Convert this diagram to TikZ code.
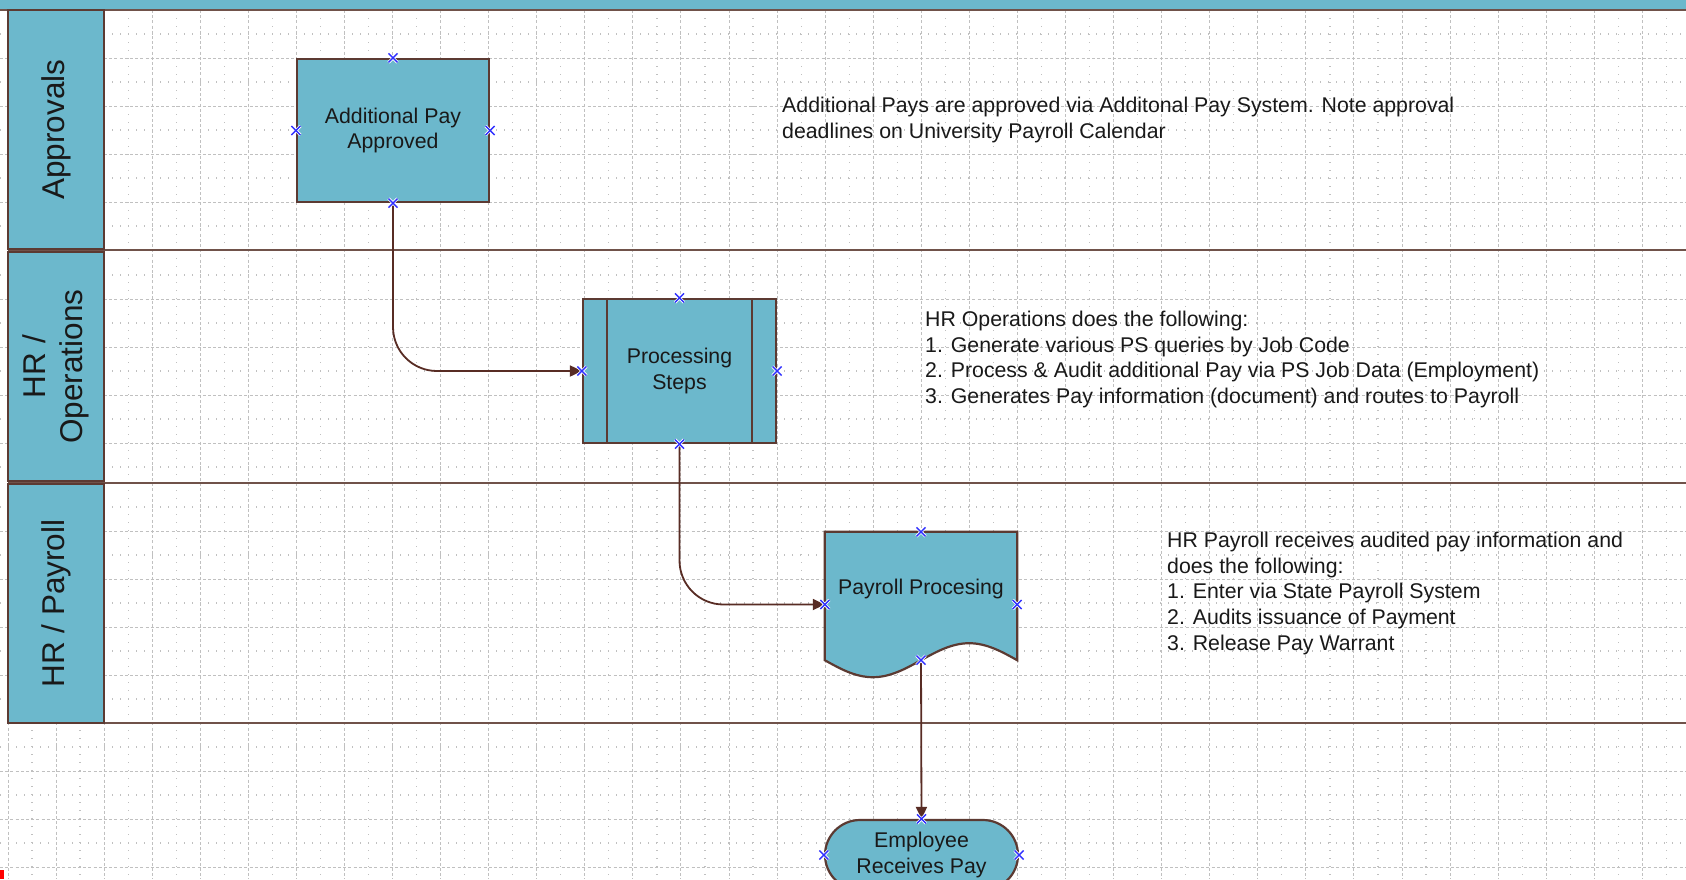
\documentclass[tikz,border=0pt]{standalone}
\usepackage{fontspec}
\setmainfont{Liberation Sans}
\usetikzlibrary{arrows.meta}
\definecolor{laneteal}{RGB}{108,184,204}
\definecolor{boxbrown}{RGB}{92,58,50}
\definecolor{lanebrown}{RGB}{112,82,74}
\definecolor{connbrown}{RGB}{88,44,36}
\definecolor{gridc}{RGB}{192,192,192}
\definecolor{cpblue}{RGB}{48,48,255}
\definecolor{textc}{RGB}{25,25,25}
\pgfdeclarelayer{gridlayer}
\pgfdeclarelayer{shapelayer}
\pgfsetlayers{gridlayer,shapelayer,main}
\tikzset{
  gridmajor/.style={gridc, line width=1pt, dash pattern=on 3pt off 2.2pt},
  gridminor/.style={gridc, line width=1.2pt, dash pattern=on 1.2pt off 6.8pt},
  laneline/.style={lanebrown, line width=2.6pt},
  header/.style={draw=boxbrown, line width=2.2pt, fill=laneteal, inner sep=0pt, text=textc, font=\fontsize{31.5}{37}\selectfont},
  box/.style={draw=boxbrown, line width=2.2pt, fill=laneteal, inner sep=0pt, text=textc, font=\fontsize{21.3}{25.5}\selectfont},
  boxshape/.style={draw=boxbrown, line width=2.2pt, fill=laneteal},
  boxline/.style={boxbrown, line width=2.2pt},
  conn/.style={connbrown, line width=1.8pt, -{Triangle[length=12pt,width=11pt]}},
  note/.style={align=left, inner sep=0pt, text=textc, font=\fontsize{21.3}{25.6}\selectfont},
  cpline/.style={cpblue, line width=1.4pt},
  cpx/.pic={\draw[white, line width=3pt] (-4.5pt,-4.5pt) -- (4.5pt,4.5pt) (-4.5pt,4.5pt) -- (4.5pt,-4.5pt);
            \draw[cpline] (-4.5pt,-4.5pt) -- (4.5pt,4.5pt) (-4.5pt,4.5pt) -- (4.5pt,-4.5pt);}
}
\begin{document}
\begin{tikzpicture}[x=1pt,y=-1pt]
\useasboundingbox (0,0) rectangle (1686,879);
\clip (0,0) rectangle (1686,879);
\begin{pgfonlayer}{gridlayer}
\fill[white] (0,0) rectangle (1686,879);
\foreach \i in {0,...,34} {
  \draw[gridmajor] ({8+48.07*\i},10) -- ({8+48.07*\i},879);
  \draw[gridminor] ({32+48.07*\i},10) -- ({32+48.07*\i},879);
}
\foreach \y in {58,106,154,202,299,347,395,443,531,579,627,675,771,819,867}
  \draw[gridmajor] (0,\y) -- (1686,\y);
\foreach \y in {34,82,130,178,226,275,323,371,419,467,507,555,603,651,699,747,795,843}
  \draw[gridminor] (0,\y) -- (1686,\y);
\end{pgfonlayer}

% top band and lane lines
\fill[laneteal] (0,0) rectangle (1686,10);
\draw[laneline] (0,10) -- (1686,10);
\draw[laneline] (8,250) -- (1686,250);
\draw[laneline] (8,483) -- (1686,483);
\draw[laneline] (8,723) -- (1686,723);

% lane headers
\node[header, rotate=90, minimum width=239pt, minimum height=96pt] (hA) at (56,129.5) {Approvals};
\node[header, rotate=90, minimum width=229pt, minimum height=96pt, align=center] (hO) at (56,366.5) {HR /\\Operations};
\node[header, rotate=90, minimum width=239pt, minimum height=96pt] (hP) at (56,603.5) {HR / Payroll};

% process boxes
\node[box, minimum width=192pt, minimum height=143pt, align=center] (ap) at (393,130.5) {Additional Pay\\Approved};
\node[box, minimum width=193pt, minimum height=144pt, align=center] (ps) at (679.5,371) {Processing\\Steps};
\draw[boxline] ([xshift=25pt]ps.north west) -- ([xshift=25pt]ps.south west);
\draw[boxline] ([xshift=-25pt]ps.north east) -- ([xshift=-25pt]ps.south east);

% document shape
\node[inner sep=0pt, minimum width=192pt, text height=62.5pt, text depth=82.5pt, text=textc, font=\fontsize{21.3}{25.5}\selectfont] (pp) at (921,604.5) {Payroll Procesing};
\begin{pgfonlayer}{shapelayer}
\filldraw[boxshape] (pp.north west) -- (pp.north east) -- ([yshift=17pt]pp.south east)
  sin ([shift={(-48pt,34pt)}]pp.south east) cos ([yshift=17pt]pp.south)
  sin ([xshift=48pt]pp.south west) cos ([yshift=17pt]pp.south west) -- cycle;
\end{pgfonlayer}

% terminator
\node[box, rounded corners=35pt, minimum width=193pt, minimum height=70pt, align=center] (emp) at (921.5,855) {Employee\\Receives Pay};

% connectors
\draw[conn, rounded corners=44pt] (ap.south) |- (ps.west);
\draw[conn, rounded corners=44pt] (ps.south) |- (pp.west);
\draw[conn] ([yshift=17pt]pp.south) -- (emp.north);

% connection points
\pic at (ap.north) {cpx}; \pic at (ap.south) {cpx}; \pic at (ap.west) {cpx}; \pic at (ap.east) {cpx};
\pic at (ps.north) {cpx}; \pic at (ps.south) {cpx}; \pic at (ps.west) {cpx}; \pic at (ps.east) {cpx};
\pic at (pp.north) {cpx}; \pic at ([yshift=17pt]pp.south) {cpx}; \pic at (pp.west) {cpx}; \pic at (pp.east) {cpx};
\pic at (emp.north) {cpx}; \pic at (emp.west) {cpx}; \pic at (emp.east) {cpx};

% annotations
\node[note, anchor=north west] (n1) at (782,97) {Additional Pays are approved via Additonal Pay System. Note approval\\deadlines on University Payroll Calendar};
\node[note, anchor=north west] (n2) at (925,311) {HR Operations does the following:\\1. Generate various PS queries by Job Code\\2. Process \& Audit additional Pay via PS Job Data (Employment)\\3. Generates Pay information (document) and routes to Payroll};
\node[note, anchor=north west] (n3) at (1167,532) {HR Payroll receives audited pay information and\\does the following:\\1. Enter via State Payroll System\\2. Audits issuance of Payment\\3. Release Pay Warrant};

\fill[red] (0,870) rectangle (4,879);
\end{tikzpicture}
\end{document}
